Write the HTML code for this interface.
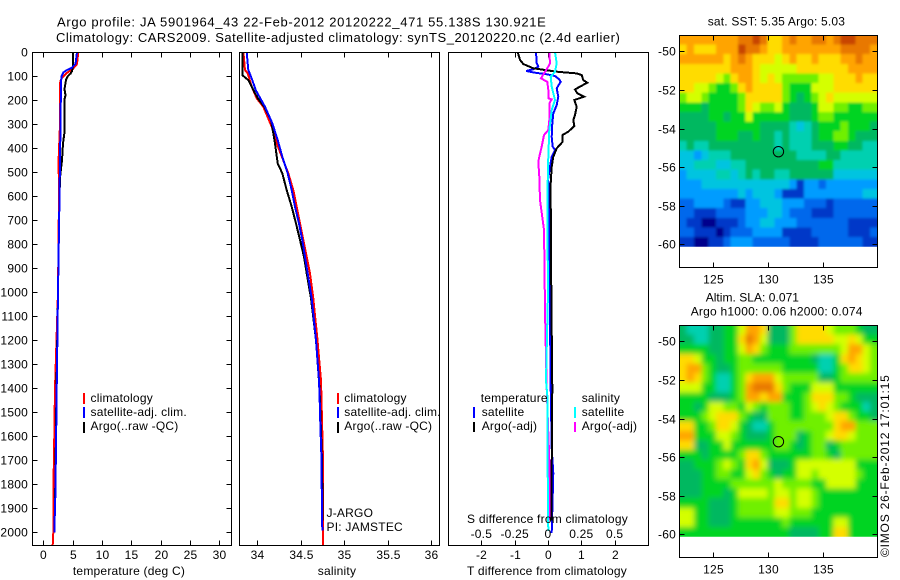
<!DOCTYPE html>
<html lang="en">
<head>
<meta charset="utf-8">
<title>Argo profile JA 5901964_43</title>
<style>
html,body{margin:0;padding:0;background:#fff;}
#chart{display:block;position:absolute;left:0;top:0;}
text{font-family:"Liberation Sans",sans-serif;fill:#000;letter-spacing:0.22px;}
</style>
</head>
<body>
<svg id="chart" xmlns="http://www.w3.org/2000/svg" width="900" height="580" viewBox="0 0 900 580"></svg>
<script>
// ---- tick labels ----
const depthTicks = [0,100,200,300,400,500,600,700,800,900,1000,1100,1200,1300,1400,1500,1600,1700,1800,1900,2000];
const tempTicks = [0,5,10,15,20,25,30];
const salTicks = [34,34.5,35,35.5,36];
const salTickLabels = ['34','34.5','35','35.5','36'];
const diffTTicks = [-2,-1,0,1,2];
const diffSTicks = [-0.5,-0.25,0,0.25,0.5];
const lonTicks = [125,130,135];
const latTicks = [-50,-52,-54,-56,-58,-60];

// ---- temperature panel (deg C) ----
const tempClimDepth = [0,50,70,90,110,120,130,300,450,600,1000,1400,1600,1850,2000,2054];
const tempClimValue = [5.97,5.74,5.06,3.87,3.10,2.93,2.85,2.85,2.6,2.68,2.5,2.0,1.88,1.7,1.7,1.6];
const tempSatDepth = [0,50,65,75,85,100,130,300,450,600,1000,1400,1650,1850,2000];
const tempSatValue = [5.74,5.49,4.89,4.04,3.44,3.10,3.02,2.93,2.85,2.76,2.5,2.28,2.16,2.05,1.88];
const tempArgoDepth = [0,60,80,90,100,115,130,155,180,200,340,380,450,520,600,1000,1400,1900];
const tempArgoValue = [5.06,5.06,4.89,4.64,4.21,3.87,3.78,3.61,3.78,3.58,3.58,3.36,3.19,2.87,2.76,2.5,2.25,1.99];

// ---- salinity panel ----
const salClimDepth = [0,75,89,144,193,228,311,381,505,575,644,714,783,853,922,1026,1200,1367,1700,2054];
const salClimValue = [33.84,33.859,33.89,33.936,33.993,34.069,34.166,34.223,34.356,34.414,34.453,34.491,34.529,34.568,34.606,34.644,34.692,34.732,34.755,34.755];
const salSatDepth = [0,75,117,158,228,297,367,436,505,575,644,714,783,853,922,1026,1200,1367,1450,1546,1671,1992];
const salSatValue = [33.878,33.897,33.943,33.98,34.089,34.172,34.234,34.287,34.349,34.395,34.433,34.479,34.517,34.548,34.579,34.625,34.675,34.709,34.717,34.724,34.736,34.747];
const salArgoDepth = [0,96,117,144,193,228,283,339,381,464,505,575,644,714,783,853,922,1026,1200,1400,1700,1950];
const salArgoValue = [33.828,33.828,33.897,33.936,34.005,34.08,34.157,34.184,34.203,34.234,34.287,34.338,34.395,34.445,34.491,34.537,34.568,34.617,34.675,34.715,34.744,34.752];

// ---- difference panel ----
const dTSatDepth = [0,47,61,72,79,86,93,100,114,124,151,186,221,256,297,353,394,408,436,478,533,561,617,1000,1400,1650,1754,2002];
const dTSatValue = [-0.36,-0.34,-0.29,-0.44,-0.66,-0.39,-0.04,0.21,0.34,0.38,0.26,0.31,0.26,0.16,0.13,0.11,0.14,0.21,0.11,0.06,0,0.04,0.04,0.05,0.08,0.11,0.16,0.11];
const dTArgoDepth = [0,33,50,68,82,89,96,117,128,144,156,172,186,200,228,262,283,308,332,346,374,401,436,478,547,617,1000,1400,1950];
const dTArgoValue = [-0.91,-0.84,-0.74,-0.44,0.26,0.86,1.01,1.06,1.18,0.96,0.81,0.88,1.08,0.79,0.86,0.81,0.76,0.79,0.61,0.43,0.44,0.26,0.16,0.11,0.08,0.08,0.1,0.13,0.1];
const dSArgoDepth = [0,47,68,89,110,124,158,193,197,214,283,325,346,394,436,457,519,617,740,1100,1400,1700,1950];
const dSArgoValue = [0.01,0.015,-0.005,-0.03,-0.0525,-0.005,0.0025,0.0025,0.0275,0.01,0.01,0.0025,-0.03,-0.0475,-0.065,-0.0725,-0.065,-0.06,-0.03,-0.022,-0.01,0.01,0.01];
const dSSatDepth = [0,47,82,103,144,200,242,325,436,617,1000,1367,1450,1748,1995];
const dSSatValue = [0.0525,0.065,0.0525,0.02,0.0275,0.0525,0.0275,0.01,0.0025,-0.005,0,-0.015,-0.0025,-0.0025,0.0025];

// ---- map fields (colour level per cell) ----
const sstField = [
[11,11,11,11,11,11,11,11,12,12,13,12,10,10,11,12,11,11,12,12,11,12,13,13,12,12,12],
[10,11,10,10,10,11,11,11,13,12,12,11,10,10,11,11,11,11,11,11,11,11,12,12,12,12,11],
[11,11,11,11,11,11,10,11,12,11,10,10,10,9,10,11,10,10,11,10,10,10,11,11,12,11,11],
[10,10,10,10,10,10,10,11,11,11,10,9,9,9,9,9,10,10,10,10,10,10,10,11,11,11,11],
[10,10,10,10,10,9,8,10,11,11,10,9,10,9,8,8,8,8,8,9,9,10,10,10,11,10,10],
[10,10,9,9,8,7,7,8,10,11,10,10,10,10,8,7,7,7,9,9,9,10,10,10,10,10,10],
[8,9,9,8,7,7,7,7,8,10,10,10,10,10,8,7,6,7,8,9,10,9,9,9,9,9,9],
[7,7,7,6,7,7,7,7,8,10,9,8,8,9,7,6,6,6,7,9,9,8,8,7,7,8,8],
[6,6,6,6,7,7,6,7,7,9,7,7,7,7,7,6,6,6,7,8,8,7,7,7,7,7,7],
[6,6,6,6,6,7,7,7,7,7,7,6,6,6,6,5,4,5,6,7,7,7,8,7,7,7,6],
[6,6,6,6,6,7,7,7,6,6,7,6,6,5,6,5,5,5,6,7,7,8,8,7,6,6,6],
[5,6,5,5,6,6,6,6,6,6,6,6,6,5,6,5,5,5,6,6,6,7,7,6,6,5,5],
[4,4,3,4,5,5,5,6,6,6,6,6,6,6,6,6,5,5,5,5,6,6,5,5,5,5,5],
[4,4,5,5,5,4,4,5,5,6,6,6,6,6,6,6,6,6,6,7,7,5,5,5,5,5,5],
[3,4,4,4,4,5,5,4,5,6,5,6,6,5,5,6,6,6,6,6,6,4,4,4,4,4,4],
[3,3,3,4,4,4,4,4,4,4,4,4,4,4,4,3,1,3,3,2,3,3,3,3,3,3,3],
[3,3,3,3,3,3,3,3,4,3,4,4,4,3,1,1,1,3,3,3,3,3,3,3,3,4,4],
[2,2,3,3,3,3,2,1,1,3,3,4,4,4,3,3,3,2,2,2,1,2,2,2,2,2,2],
[2,2,1,1,1,2,2,2,2,3,3,3,4,4,3,2,2,2,1,1,1,2,2,2,2,2,2],
[2,1,1,0,0,1,1,1,2,3,3,4,4,3,3,3,2,2,2,2,2,2,2,1,1,1,1],
[2,2,1,1,1,0,1,2,2,2,3,3,3,3,1,1,1,1,2,2,2,2,2,1,1,1,2],
[1,1,0,0,1,1,2,3,3,3,2,2,2,2,2,1,1,1,1,2,2,2,2,2,2,1,1]
];
const slaField = [
[6,5,5,5,6,6,7,7,9,11,11,10,6,6,6,8,10,10,10,10,9,8,8,8,7,6,6],
[6,6,5,5,6,6,7,7,10,12,11,9,6,6,6,8,10,10,10,10,10,9,9,10,9,7,7],
[7,7,7,7,6,6,7,7,9,11,10,8,7,7,7,8,8,8,8,8,8,8,9,11,11,9,8],
[10,10,9,7,7,6,7,7,8,8,7,7,7,7,7,7,7,7,6,5,5,7,10,11,10,9,8],
[10,11,11,8,7,6,6,7,8,8,8,8,8,8,7,7,7,7,7,5,5,7,8,10,10,9,8],
[10,11,10,8,7,5,5,7,8,10,11,11,11,9,8,8,8,8,8,6,6,7,8,8,8,8,8],
[9,9,9,7,7,5,5,7,8,11,12,12,12,10,8,7,7,7,9,9,9,7,7,7,7,7,7],
[7,7,7,7,6,6,6,7,8,11,11,10,11,11,7,7,7,8,10,10,10,8,8,7,6,6,6],
[7,7,6,7,9,9,8,8,7,9,8,7,8,8,8,7,7,8,9,10,9,8,7,7,7,5,6],
[7,7,7,8,9,10,10,10,8,7,6,6,8,8,8,7,7,8,8,8,9,10,10,8,7,7,6],
[10,10,7,7,8,10,10,9,7,6,5,5,7,8,8,8,8,8,8,8,8,10,11,11,8,8,8],
[11,11,7,7,7,9,9,8,7,6,6,6,7,8,8,8,6,7,8,8,9,10,10,9,8,8,8],
[10,10,6,6,7,7,9,7,7,7,7,7,7,8,8,7,6,7,8,8,6,7,8,8,8,8,8],
[7,7,7,6,7,7,7,7,8,10,10,8,7,7,7,7,7,7,8,8,7,6,8,8,8,8,8],
[6,6,7,7,7,8,9,8,7,10,11,9,6,6,6,7,9,9,9,9,9,9,9,9,7,7,7],
[6,6,6,7,7,8,8,7,7,9,10,8,7,6,7,7,9,9,8,9,9,9,9,9,8,7,7],
[6,6,6,7,7,7,7,8,8,8,8,8,8,9,8,8,8,8,7,7,9,9,9,9,7,7,7],
[6,6,6,7,7,7,6,7,9,9,9,9,8,9,9,8,9,9,8,7,7,7,7,7,7,7,7],
[7,7,7,7,6,6,6,7,8,8,8,8,8,10,10,8,9,9,8,7,7,7,7,7,7,7,7],
[9,9,7,7,6,6,6,7,8,8,8,8,8,9,9,8,8,8,7,7,7,7,7,7,7,7,7],
[9,9,7,7,6,6,6,7,7,7,7,7,7,7,8,7,7,7,7,7,7,9,9,7,7,7,7],
[7,7,7,7,7,7,7,7,7,7,7,7,7,7,7,6,6,6,6,7,7,10,10,7,7,7,7]
];
const colourLevels = ['#00008c','#0038c8','#0068ec','#009cff','#00c4e0','#00d0b0','#00b860','#00d420','#70f000','#d4ff00','#ffdc00','#ffa400','#e87800','#c84400'];
const argoLon = 130.921;
const argoLat = -55.2;

const svg = document.getElementById('chart');
const NS = 'http://www.w3.org/2000/svg';

function add(tag, name, attrs, parent) {
  const el = document.createElementNS(NS, tag);
  
  
  for (const k in attrs) el.setAttribute(k, attrs[k]);
  (parent || svg).appendChild(el);
  return el;
}
function label(str, x, y, name, opts, parent) {
  const o = Object.assign({'font-size': 12, x: x, y: y}, opts || {});
  const t = add('text', name, o, parent);
  t.textContent = str;
  return t;
}
function line(x1, y1, x2, y2, name, parent) {
  return add('line', name, {x1: x1, y1: y1, x2: x2, y2: y2, stroke: '#000', 'stroke-width': 1, 'shape-rendering': 'crispEdges'}, parent);
}
function frame(x0, y0, x1, y1, name, parent) {
  return add('rect', name, {x: x0, y: y0, width: x1 - x0, height: y1 - y0, fill: 'none', stroke: '#000', 'stroke-width': 1, 'shape-rendering': 'crispEdges'}, parent);
}

// axis functions
const yDepth = d => 52 + 0.24015 * d;
const xTemp = t => 43.3 + 5.867 * t;
const xSal = s => 257.3 + 87 * (s - 34);
const xDiffT = t => 548 + 33.33 * t;
const xDiffS = s => 548 + 133.3 * s;

function series(depths, values, xFn, colour, width, name, parent) {
  const pts = depths.map((d, i) => xFn(values[i]).toFixed(1) + ',' + yDepth(d).toFixed(1)).join(' ');
  return add('polyline', name, {points: pts, fill: 'none', stroke: colour, 'stroke-width': width, 'stroke-linejoin': 'miter', 'shape-rendering': 'crispEdges'}, parent);
}
function legendBar(x, y0, y1, colour, name, parent) {
  return add('rect', name, {x: x, y: y0, width: 2, height: y1 - y0, fill: colour, 'shape-rendering': 'crispEdges'}, parent);
}

// titles
label('Argo profile: JA 5901964_43 22-Feb-2012 20120222_471 55.138S 130.921E', 57, 26.5, 'figure-title-line-1', {'font-size': 13, textLength: 489, lengthAdjust: 'spacing'});
label('Climatology: CARS2009. Satellite-adjusted climatology: synTS_20120220.nc (2.4d earlier)', 56, 42, 'figure-title-line-2', {'font-size': 13, textLength: 564, lengthAdjust: 'spacing'});

function standardLegend(barX, textX, parent) {
  const rows = ['climatology','satellite-adj. clim.','Argo(..raw -QC)'];
  const cols = ['#ff0000','#0000ff','#000000'];
  const tops = [393,407,422];
  rows.forEach((r, i) => {
    legendBar(barX, tops[i], tops[i] + 11, cols[i], 'legend-swatch-' + (i + 1), parent);
    label(r, textX, 402 + i * 14, 'legend-label-' + (i + 1), {}, parent);
  });
}

// ---- Panel 1: temperature ----
const p1 = add('g', 'temperature-panel', {});
depthTicks.forEach(d => {
  const y = Math.round(yDepth(d)) + 0.5;
  line(32.5, y, 37.5, y, 'depth-tick-left', p1);
  line(226.5, y, 231.5, y, 'depth-tick-right', p1);
  label(String(d), 28, y + 4, 'depth-tick-label', {'text-anchor': 'end'}, p1);
});
tempTicks.forEach(t => {
  const x = Math.round(xTemp(t)) + 0.5;
  line(x, 52.5, x, 57.5, 'temperature-tick-top', p1);
  line(x, 540.5, x, 545.5, 'temperature-tick-bottom', p1);
  label(String(t), x, 559, 'temperature-tick-label', {'text-anchor': 'middle'}, p1);
});
series(tempClimDepth, tempClimValue, xTemp, '#ff0000', 2, 'temperature-climatology-line', p1);
series(tempArgoDepth, tempArgoValue, xTemp, '#000000', 2, 'temperature-argo-line', p1);
series(tempSatDepth, tempSatValue, xTemp, '#0000ff', 2, 'temperature-satellite-line', p1);
frame(32.5, 52.5, 231.5, 545.5, 'temperature-plot-frame', p1);
standardLegend(83, 90.5, p1);
label('temperature (deg C)', 129, 575, 'temperature-axis-title', {'text-anchor': 'middle'}, p1);

// ---- Panel 2: salinity ----
const p2 = add('g', 'salinity-panel', {});
salTicks.forEach((s, i) => {
  const x = Math.round(xSal(s)) + 0.5;
  line(x, 52.5, x, 57.5, 'salinity-tick-top', p2);
  line(x, 540.5, x, 545.5, 'salinity-tick-bottom', p2);
  label(salTickLabels[i], x, 559, 'salinity-tick-label', {'text-anchor': 'middle'}, p2);
});
series(salClimDepth, salClimValue, xSal, '#ff0000', 2, 'salinity-climatology-line', p2);
series(salArgoDepth, salArgoValue, xSal, '#000000', 2, 'salinity-argo-line', p2);
series(salSatDepth, salSatValue, xSal, '#0000ff', 2, 'salinity-satellite-line', p2);
frame(239.5, 52.5, 439.5, 545.5, 'salinity-plot-frame', p2);
standardLegend(337, 344.3, p2);
label('J-ARGO', 326.5, 517, 'float-agency-label', {}, p2);
label('PI: JAMSTEC', 326.5, 531, 'float-pi-label', {}, p2);
label('salinity', 337, 575, 'salinity-axis-title', {'text-anchor': 'middle'}, p2);

// ---- Panel 3: differences ----
const p3 = add('g', 'difference-panel', {});
diffTTicks.forEach(t => {
  const x = Math.round(xDiffT(t)) + 0.5;
  line(x, 52.5, x, 57.5, 'difference-tick-top', p3);
  line(x, 540.5, x, 545.5, 'difference-tick-bottom', p3);
  label(String(t), x, 559, 'temperature-difference-tick-label', {'text-anchor': 'middle'}, p3);
});
series(dTSatDepth, dTSatValue, xDiffT, '#0000ff', 2, 'temperature-difference-satellite-line', p3);
series(dTArgoDepth, dTArgoValue, xDiffT, '#000000', 2, 'temperature-difference-argo-line', p3);
series(dSArgoDepth, dSArgoValue, xDiffS, '#ff00ff', 2, 'salinity-difference-argo-line', p3);
series(dSSatDepth, dSSatValue, xDiffS, '#00ffff', 2, 'salinity-difference-satellite-line', p3);
frame(448.5, 52.5, 648.5, 545.5, 'difference-plot-frame', p3);
diffSTicks.forEach(s => {
  label(String(s), xDiffS(s), 538, 'salinity-difference-tick-label', {'text-anchor': 'middle'}, p3);
});
label('S difference from climatology', 547.5, 523, 'salinity-difference-axis-title', {'text-anchor': 'middle'}, p3);
label('T difference from climatology', 547, 575, 'temperature-difference-axis-title', {'text-anchor': 'middle'}, p3);
label('temperature', 480.7, 402, 'legend-temperature-heading', {}, p3);
legendBar(473, 407, 418, '#0000ff', 'legend-swatch-temperature-satellite', p3);
label('satellite', 481.7, 416, 'legend-label-temperature-satellite', {}, p3);
legendBar(473, 422, 432, '#000000', 'legend-swatch-temperature-argo', p3);
label('Argo(-adj)', 481.7, 430, 'legend-label-temperature-argo', {}, p3);
label('salinity', 581.7, 402, 'legend-salinity-heading', {}, p3);
legendBar(574, 407, 418, '#00ffff', 'legend-swatch-salinity-satellite', p3);
label('satellite', 581.7, 416, 'legend-label-salinity-satellite', {}, p3);
legendBar(574, 422, 432, '#ff00ff', 'legend-swatch-salinity-argo', p3);
label('Argo(-adj)', 581.7, 430, 'legend-label-salinity-argo', {}, p3);

// ---- Maps ----
const mapDefs = add('defs', 'map-definitions', {});
function drawMap(field, dy, name, blur) {
  const g = add('g', name, {});
  const xLon = lon => 713.3 + 11 * (lon - 125);
  const yLat = lat => 51.3 + dy + 19.3 * (-50 - lat);
  const rows = field.length;
  const cols = field[0].length;
  const lonStart = 121.91, lonSpan = 18, latStart = -49.155, latSpan = 10.97;

  const clip = add('clipPath', name + '-clip', {id: name + '-clip'}, mapDefs);
  add('rect', name + '-clip-area', {x: 679, y: yLat(latStart), width: 198.5, height: yLat(latStart - latSpan) - yLat(latStart)}, clip);
  const filter = add('filter', name + '-smoothing', {id: name + '-smooth', filterUnits: 'userSpaceOnUse', x: 660, y: 15 + dy, width: 240, height: 260}, mapDefs);
  add('feGaussianBlur', name + '-smoothing-blur', {stdDeviation: blur}, filter);

  const clipGroup = add('g', name + '-field-clip', {'clip-path': 'url(#' + name + '-clip)'}, g);
  const cells = add('g', name + '-field', {filter: 'url(#' + name + '-smooth)'}, clipGroup);
  field.forEach((row, r) => {
    row.forEach((v, c) => {
      // outermost cells run past the clip so smoothing does not fade into white
      const x0 = xLon(lonStart + lonSpan * c / cols) - (c === 0 ? 10 : 0);
      const x1 = xLon(lonStart + lonSpan * (c + 1) / cols) + (c === cols - 1 ? 10 : 0);
      const y0 = yLat(latStart - latSpan * r / rows) - (r === 0 ? 10 : 0);
      const y1 = yLat(latStart - latSpan * (r + 1) / rows) + (r === rows - 1 ? 10 : 0);
      add('rect', name + '-cell', {x: x0.toFixed(2), y: y0.toFixed(2), width: (x1 - x0 + 0.4).toFixed(2), height: (y1 - y0 + 0.4).toFixed(2), fill: colourLevels[v], 'shape-rendering': 'crispEdges'}, cells);
    });
  });
  frame(679.5, 35.5 + dy, 877.5, 267.5 + dy, name + '-frame', g);
  lonTicks.forEach(lon => {
    const x = Math.round(xLon(lon)) + 0.5;
    line(x, 35.5 + dy, x, 40.5 + dy, 'longitude-tick-top', g);
    line(x, 262.5 + dy, x, 267.5 + dy, 'longitude-tick-bottom', g);
    label(String(lon), x, 283.7 + dy, 'longitude-tick-label', {'text-anchor': 'middle'}, g);
  });
  latTicks.forEach(lat => {
    const y = Math.round(yLat(lat)) + 0.5;
    line(679.5, y, 684.5, y, 'latitude-tick-left', g);
    line(872.5, y, 877.5, y, 'latitude-tick-right', g);
    label('-' + Math.abs(lat), 676, y + 4, 'latitude-tick-label', {'text-anchor': 'end'}, g);
  });
  add('circle', name + '-argo-position', {cx: xLon(argoLon), cy: yLat(argoLat), r: 5.2, fill: 'none', stroke: '#000', 'stroke-width': 1}, g);
}
drawMap(sstField, 0, 'sst-map', 1.3);
drawMap(slaField, 290, 'sla-map', 2.6);
label('sat. SST: 5.35  Argo: 5.03', 707.7, 25.5, 'sst-map-title', {textLength: 137.5, lengthAdjust: 'spacing'});
label('Altim. SLA: 0.071', 705.7, 301.3, 'sla-map-title-line-1', {textLength: 93.5, lengthAdjust: 'spacing'});
label('Argo h1000: 0.06 h2000: 0.074', 690.7, 315.3, 'sla-map-title-line-2', {textLength: 172, lengthAdjust: 'spacing'});
label('\u00A9IMOS 26-Feb-2012 17:01:15', 0, 0, 'imos-timestamp', {transform: 'translate(889 557) rotate(-90)', textLength: 182, lengthAdjust: 'spacing'});
</script>
</body>
</html>
